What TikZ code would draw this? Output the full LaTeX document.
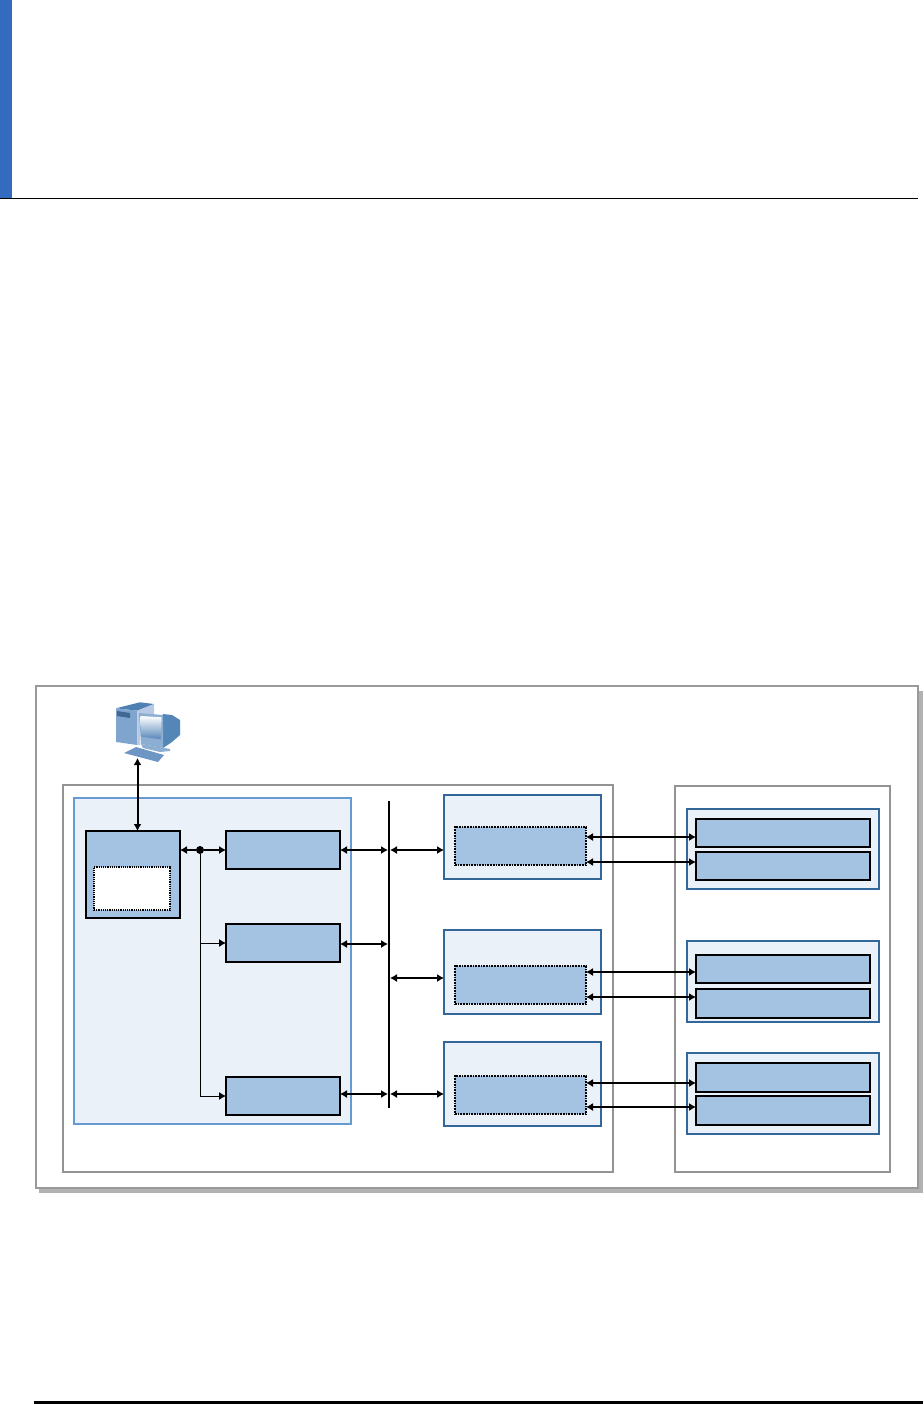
\documentclass[tikz,border=0pt]{standalone}
\usepackage[dvipsnames,svgnames]{xcolor}
\usepackage{tikz}
\usetikzlibrary{arrows.meta,calc}
\definecolor{barblue}{HTML}{336CBF}
\definecolor{paleblue}{HTML}{EAF1F9}
\definecolor{midblue}{HTML}{A4C2E1}
\definecolor{edgeblue}{HTML}{659BD0}
\definecolor{darkedge}{HTML}{336699}
\definecolor{pctop}{HTML}{4F80B4}
\definecolor{pcface}{HTML}{7FA5CE}
\definecolor{pclight}{HTML}{B7C9E5}
\definecolor{pcslot}{HTML}{3F6894}
\definecolor{pcside}{HTML}{5586B8}
\definecolor{pcfront}{HTML}{8DAED3}
\definecolor{pckeys}{HTML}{6D96C5}
\tikzset{
    frame/.style={draw=gray!85,line width=1.5pt,outer sep=0pt,inner sep=0pt},
    panelA/.style={draw=edgeblue,fill=paleblue,line width=2pt,outer sep=0pt,inner sep=0pt},
    panelB/.style={draw=darkedge,fill=paleblue,line width=1.5pt,outer sep=0pt,inner sep=0pt},
    unit/.style={draw=black,fill=midblue,line width=2pt,outer sep=0pt,inner sep=0pt},
    dotunit/.style={draw=black,fill=midblue,densely dotted,line width=1.7pt,outer sep=0pt,inner sep=0pt},
    link/.style={<->,line width=1.2pt},
    >={Latex[length=7pt,width=8pt]},
}
\begin{document}
\begin{tikzpicture}[
                x=1pt,y=-1pt, % one unit per pixel
            ]
            \useasboundingbox (0,0) rectangle (923,1404);
            % page header and footer
            \fill[barblue] (0,0) rectangle (12,198);
            \draw[line width=1pt] (0,198.5) -- (918,198.5);
            \draw[line width=3pt] (34,1402.5) -- (923,1402.5);

            % outer frame with its shadow
            \fill[gray!60] (39,691) rectangle (923,1193);
            \node[frame,fill=white,draw=gray!80,line width=2pt,minimum width=882pt,minimum height=502pt] (outer) at (477,937) {};
            \node[frame,minimum width=550pt,minimum height=387pt] (nodeL) at (338,978.5) {};
            \node[frame,minimum width=215pt,minimum height=386pt] (nodeR) at (782.5,979) {};

            % left panel
            \node[panelA,minimum width=277pt,minimum height=326pt] (ctrl) at (212.5,961) {};
            \node[unit,minimum width=94pt,minimum height=87pt] (srv) at (133,874.5) {};
            \node[draw=black,fill=white,densely dotted,line width=1.2pt,minimum width=76pt,minimum height=43pt,inner sep=0pt] (srvin) at (132,888.5) {};
            \node[unit,minimum width=114pt,minimum height=38pt] (ifA) at (283,850) {};
            \node[unit,minimum width=114pt,minimum height=38pt] (ifB) at (283,943) {};
            \node[unit,minimum width=114pt,minimum height=38pt] (ifC) at (283,1096) {};

            % middle panels
            \node[panelB,minimum width=157pt,minimum height=84pt] (midA) at (522.5,837) {};
            \node[panelB,minimum width=157pt,minimum height=84pt] (midB) at (522.5,972) {};
            \node[panelB,minimum width=157pt,minimum height=84pt] (midC) at (522.5,1084) {};
            \node[dotunit,minimum width=131pt,minimum height=38pt] (midAin) at (520.5,846) {};
            \node[dotunit,minimum width=131pt,minimum height=38pt] (midBin) at (520.5,985) {};
            \node[dotunit,minimum width=131pt,minimum height=38pt] (midCin) at (520.5,1095) {};

            % right panels
            \node[panelB,minimum width=192pt,minimum height=80pt] (devA) at (783,849) {};
            \node[panelB,minimum width=192pt,minimum height=81pt] (devB) at (783,981.5) {};
            \node[panelB,minimum width=192pt,minimum height=81pt] (devC) at (783,1093.5) {};
            \node[unit,minimum width=174pt,minimum height=28pt] (devA1) at (783,833) {};
            \node[unit,minimum width=174pt,minimum height=28pt] (devA2) at (783,866) {};
            \node[unit,minimum width=174pt,minimum height=28pt] (devB1) at (783,968.5) {};
            \node[unit,minimum width=174pt,minimum height=29pt] (devB2) at (783,1003) {};
            \node[unit,minimum width=174pt,minimum height=29pt] (devC1) at (783,1077.5) {};
            \node[unit,minimum width=174pt,minimum height=29pt] (devC2) at (783,1110.5) {};

            % computer
            \fill[pctop] (116,708.3) -- (140,702.3) -- (154,704) -- (137.3,710.7) -- cycle;
            \fill[pcface] (116,708.3) -- (137.3,710.7) -- (137.3,745) -- (116,742) -- cycle;
            \fill[pcslot] (117,711) -- (130,713) -- (130,718) -- (117,716) -- cycle;
            \fill[pclight] (137.3,710.7) -- (154,704) -- (154,714) -- (140,716) -- (140,745) -- (137.3,745) -- cycle;
            \fill[pcside] (163,714) -- (172,715) -- (180,720) -- (180,735) -- (172,742) -- (163,748) -- cycle;
            \fill[pcfront] (139,713) -- (163,715) -- (163,748) -- (141,744) -- cycle;
            \shade[top color=white,bottom color=pcside] (140.5,716) -- (161.7,717.3) -- (160.7,739.3) -- (141,736.7) -- cycle;
            \fill[pcfront] (141,744) -- (170,749) -- (170,751) -- (160,752) -- (143,748) -- cycle;
            \fill[pckeys] (124,753) -- (136,747) -- (164,755) -- (158,762) -- cycle;
            \coordinate (pc) at (137.5,758);

            % bus
            \node[inner sep=0pt,outer sep=0pt,minimum width=2pt,minimum height=307pt,fill=black] (bus) at (389,954.5) {};
            \node[circle,fill=black,inner sep=0pt,minimum size=8pt] (tap) at (200,850) {};
            \coordinate (rowA) at (0,850);
            \coordinate (rowB) at (0,944);
            \coordinate (rowBm) at (0,978);
            \coordinate (rowC) at (0,1094);

            % connectors
            \draw[link,line width=2pt] (pc) -- (pc |- srv.north);
            \draw[<-,line width=1.2pt] (srv.east |- rowA) -- (tap);
            \draw[->,line width=1.2pt] (tap) -- (ifA.west |- rowA);
            \draw[->,line width=1pt] (tap) |- (ifC.west);
            \draw[->,line width=1pt] (tap.center |- ifB.west) -- (ifB.west);

            \draw[link] (ifA.east |- rowA) -- (bus.west |- rowA);
            \draw[link] (bus.east |- rowA) -- (midA.west |- rowA);
            \draw[link] (ifB.east |- rowB) -- (bus.west |- rowB);
            \draw[link] (bus.east |- rowBm) -- (midB.west |- rowBm);
            \draw[link] (ifC.east |- rowC) -- (bus.west |- rowC);
            \draw[link] (bus.east |- rowC) -- (midC.west |- rowC);

            \draw[link] ($(midAin.east)+(0,-9)$) -- (devA1.west |- {$(midAin.east)+(0,-9)$});
            \draw[link,line width=1.5pt] ($(midAin.east)+(0,16)$) -- (devA2.west |- {$(midAin.east)+(0,16)$});
            \draw[link] ($(midBin.east)+(0,-13)$) -- (devB1.west |- {$(midBin.east)+(0,-13)$});
            \draw[link,line width=2pt] ($(midBin.east)+(0,12)$) -- (devB2.west |- {$(midBin.east)+(0,12)$});
            \draw[link] ($(midCin.east)+(0,-12)$) -- (devC1.west |- {$(midCin.east)+(0,-12)$});
            \draw[link] ($(midCin.east)+(0,12)$) -- (devC2.west |- {$(midCin.east)+(0,12)$});
            \end{tikzpicture}
\end{document}
